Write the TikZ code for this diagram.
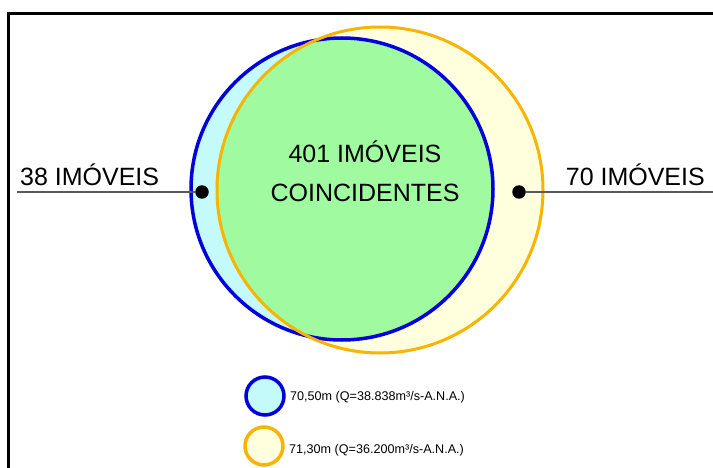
\documentclass[tikz,border=0pt]{standalone}
\usepackage{fontspec}
\setmainfont{Liberation Sans}
\definecolor{azul}{RGB}{0,0,220}
\definecolor{laranja}{RGB}{248,180,0}
\definecolor{ciano}{RGB}{196,250,250}
\definecolor{creme}{RGB}{255,255,222}
\definecolor{verde}{RGB}{160,250,160}
\tikzset{
    rotulo/.style={font=\fontsize{25}{28}\selectfont, inner sep=0pt},
    legenda/.style={font=\fontsize{12.6}{14}\selectfont, inner sep=0pt, anchor=base west},
    ponto/.style={circle, fill=black, inner sep=0pt, minimum size=13.5pt},
    guia/.style={draw=black!65, line width=1.4pt}
}
\begin{document}
\begin{tikzpicture}[x=1pt, y=-1pt]
                \useasboundingbox (0,0) rectangle (713,468);
                \draw[line width=3pt] (713,13.5) -- (8,13.5) -- (8,468);
                % areas
                \fill[ciano] (342,189) circle (151);
                \fill[creme] (380,190) circle (163);
                \begin{scope}
                    \clip (342,189) circle (151);
                    \fill[verde] (380,190) circle (163);
                \end{scope}
                \draw[azul, line width=3.5pt] (342,189) circle (151);
                \draw[laranja, line width=3pt] (380,190) circle (163);
                % pontos e linhas
                \node[ponto] (pe) at (202,192) {};
                \node[ponto] (pd) at (519,192) {};
                \coordinate (le) at (17,192);
                \coordinate (ld) at (713,192);
                \draw[guia] (le) -- (pe);
                \draw[guia] (pd) -- (ld);
                \node[rotulo, anchor=base west] (n38) at (20,186) {38 IMÓVEIS};
                \node[rotulo, anchor=base east] (n70) at (705,186) {70 IMÓVEIS};
                \node[rotulo, anchor=base] (n401) at (365,163) {401 IMÓVEIS};
                \node[rotulo, anchor=base] (ncoinc) at (365,202) {COINCIDENTES};
                % legenda
                \filldraw[fill=ciano, draw=azul, line width=3.5pt] (265,396) circle (19);
                \filldraw[fill=creme, draw=laranja, line width=3.5pt] (264,446) circle (19);
                \node[legenda] (l1) at (290,400) {70,50m (Q=38.838m³/s-A.N.A.)};
                \node[legenda] (l2) at (289,453) {71,30m (Q=36.200m³/s-A.N.A.)};
\end{tikzpicture}
\end{document}
